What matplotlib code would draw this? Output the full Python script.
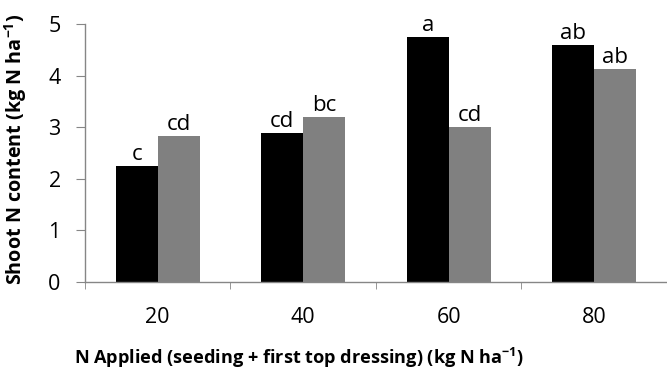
import numpy as np
import matplotlib.pyplot as plt

plt.rcParams['font.family'] = ['Open Sans', 'DejaVu Sans']

# data
categories = ['20', '40', '60', '80']
black_vals = [2.25, 2.88, 4.74, 4.60]
gray_vals = [2.82, 3.20, 3.00, 4.12]
black_letters = ['c', 'cd', 'a', 'ab']
gray_letters = ['cd', 'bc', 'cd', 'ab']

fig = plt.figure(figsize=(6.67, 3.69), dpi=100)
ax = fig.add_axes([0.1274, 0.2358, 0.8726, 0.6992])

x = np.arange(len(categories))
w = 0.288
b1 = ax.bar(x - w / 2, black_vals, w, color='black')
b2 = ax.bar(x + w / 2, gray_vals, w, color='#808080')

for bars, letters in [(b1, black_letters), (b2, gray_letters)]:
    for bar, lab in zip(bars, letters):
        ax.text(bar.get_x() + bar.get_width() / 2, bar.get_height() + 0.02, lab,
                ha='center', va='bottom', fontsize=16)

ax.set_xlim(-0.5, 3.5)
ax.set_ylim(0, 5)
ax.set_yticks([0, 1, 2, 3, 4, 5])
ax.set_xticks(x)
ax.set_xticklabels(categories, fontsize=15.5)
ax.set_xticks(np.arange(-0.5, 4, 1), minor=True)
ax.tick_params(axis='x', which='major', length=0, pad=18)
ax.tick_params(axis='x', which='minor', length=5, color='#868686', direction='out')
ax.tick_params(axis='y', length=6.5, color='#868686', labelsize=15.5, pad=11)

for s in ['top', 'right']:
    ax.spines[s].set_visible(False)
for s in ['left', 'bottom']:
    ax.spines[s].set_color('#868686')
    ax.spines[s].set_linewidth(1.0)

ylab = ax.set_ylabel('Shoot N content (kg N ha$^{\\mathregular{-1}}$)', fontsize=13.5,
                     fontweight='bold')
xlab = ax.set_xlabel('N Applied (seeding + first top dressing) (kg N ha$^{\\mathregular{-1}}$)',
                     fontsize=13, fontweight='bold')

# fit label sizes to the reference's text extents (Calibri is narrower)
fig.canvas.draw()
r = fig.canvas.get_renderer()
xb = xlab.get_window_extent(r)
xlab.set_fontsize(13 * 449 / xb.width)
yb = ylab.get_window_extent(r)
ylab.set_fontsize(13.5 * 272 / yb.height)

# place label centres where the reference has them
xlab.set_verticalalignment('center')
ax.xaxis.set_label_coords(0.367, -0.295)
ylab.set_verticalalignment('center')
ax.yaxis.set_label_coords(-0.119, 0.515)

fig.savefig('out.png', dpi=100)
